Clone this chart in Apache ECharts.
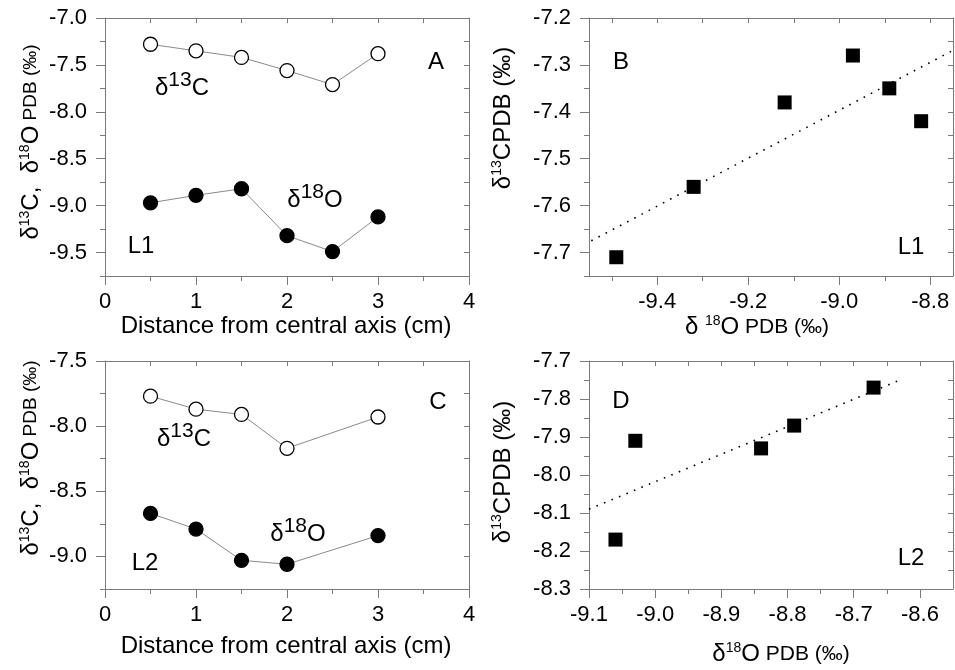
<!DOCTYPE html>
<html>
<head>
<meta charset="utf-8">
<script src="https://cdn.jsdelivr.net/npm/echarts@6/dist/echarts.min.js"></script>
<style>
html,body{margin:0;padding:0;background:#fff;}
#chart{width:955px;height:670px;}
</style>
</head>
<body>
<div id="chart"></div>
<script>
// ---------- data ----------
const distL1 = [0.5, 1, 1.5, 2, 2.5, 3];
const d13C_L1 = [-7.28, -7.35, -7.42, -7.56, -7.71, -7.38];
const d18O_L1 = [-8.97, -8.89, -8.82, -9.32, -9.49, -9.12];

const distL2 = [0.5, 1, 1.5, 2, 3];
const d13C_L2 = [-7.77, -7.87, -7.91, -8.17, -7.93];
const d18O_L2 = [-8.67, -8.79, -9.03, -9.06, -8.84];

// dotted trend lines (end points)
const fitB_x = [-9.545, -8.75];
const fitB_y = [-7.675, -7.269];
const fitD_x = [-9.1, -8.63];
const fitD_y = [-8.09, -7.75];

// ---------- ticks ----------
const xTicksA = [0, 1, 2, 3, 4];
const xMinorA = [0.5, 1.5, 2.5, 3.5];
const yTicksA = [-9.5, -9.0, -8.5, -8.0, -7.5, -7.0];
const yMinorA = [-9.75, -9.25, -8.75, -8.25, -7.75, -7.25];
const yTicksC = [-9.0, -8.5, -8.0, -7.5];
const yMinorC = [-9.25, -8.75, -8.25, -7.75];
const xTicksB = [-9.4, -9.2, -9.0, -8.8];
const xMinorB = [-9.5, -9.3, -9.1, -8.9];
const yTicksB = [-7.7, -7.6, -7.5, -7.4, -7.3, -7.2];
const yMinorB = [-7.75, -7.65, -7.55, -7.45, -7.35, -7.25];
const xTicksD = [-9.1, -9.0, -8.9, -8.8, -8.7, -8.6];
const xMinorD = [-9.05, -8.95, -8.85, -8.75, -8.65];
const yTicksD = [-8.3, -8.2, -8.1, -8.0, -7.9, -7.8, -7.7];
const yMinorD = [-8.25, -8.15, -8.05, -7.95, -7.85, -7.75];

const FONT = '"Liberation Sans", Arial, Helvetica, sans-serif';
const FRAME = '#7a7a7a';
const LBL = 22;

function fmt1(v) { return Number(v).toFixed(1); }
function fmt0(v) { return String(Math.round(v)); }

function axesFor(dim, g, min, max, major, minor, formatter) {
  const isX = dim === 'x';
  const main = {
    type: 'value', gridIndex: g, min: min, max: max,
    position: isX ? 'bottom' : 'left',
    axisLine: { show: true, onZero: false, lineStyle: { color: FRAME, width: 1 } },
    axisTick: { show: true, inside: false, length: 9, customValues: major, lineStyle: { color: FRAME, width: 1 } },
    axisLabel: { show: true, customValues: major, formatter: formatter, margin: isX ? 15 : 18,
      fontSize: LBL, fontFamily: FONT, color: '#000' },
    splitLine: { show: false }
  };
  const sub = {
    type: 'value', gridIndex: g, min: min, max: max,
    position: isX ? 'bottom' : 'left',
    axisLine: { show: false, onZero: false },
    axisTick: { show: true, inside: false, length: 5, customValues: minor, lineStyle: { color: FRAME, width: 1 } },
    axisLabel: { show: false },
    splitLine: { show: false }
  };
  const opp = {
    type: 'value', gridIndex: g, min: min, max: max,
    position: isX ? 'top' : 'right',
    axisLine: { show: true, onZero: false, lineStyle: { color: FRAME, width: 1 } },
    axisTick: { show: true, inside: true, length: 5, customValues: major.concat(minor), lineStyle: { color: FRAME, width: 1 } },
    axisLabel: { show: false },
    splitLine: { show: false }
  };
  return [main, sub, opp];
}

const xAxes = [].concat(
  axesFor('x', 0, 0, 4, xTicksA, xMinorA, fmt0),
  axesFor('x', 1, -9.55, -8.75, xTicksB, xMinorB, fmt1),
  axesFor('x', 2, 0, 4, xTicksA, xMinorA, fmt0),
  axesFor('x', 3, -9.1, -8.55, xTicksD, xMinorD, fmt1)
);
const yAxes = [].concat(
  axesFor('y', 0, -9.75, -7.0, yTicksA, yMinorA, fmt1),
  axesFor('y', 1, -7.75, -7.2, yTicksB, yMinorB, fmt1),
  axesFor('y', 2, -9.25, -7.5, yTicksC, yMinorC, fmt1),
  axesFor('y', 3, -8.3, -7.7, yTicksD, yMinorD, fmt1)
);

function pairs(xs, ys) { return xs.map((x, i) => [x, ys[i]]); }

function profile(g, xs, ys, filled) {
  return {
    type: 'line', xAxisIndex: 3 * g, yAxisIndex: 3 * g,
    data: pairs(xs, ys), symbol: 'circle', symbolSize: 14, showAllSymbol: true,
    lineStyle: { color: '#8a8a8a', width: 1 },
    itemStyle: { color: filled ? '#000' : '#fff', borderColor: '#000', borderWidth: 1.3, opacity: 1 },
    z: 3, silent: true
  };
}
function squares(g, xs, ys) {
  return {
    type: 'scatter', xAxisIndex: 3 * g, yAxisIndex: 3 * g,
    data: pairs(xs, ys), symbol: 'rect', symbolSize: 14,
    itemStyle: { color: '#000', opacity: 1 }, z: 4, silent: true
  };
}
function fit(g, xs, ys) {
  return {
    type: 'line', xAxisIndex: 3 * g, yAxisIndex: 3 * g,
    data: pairs(xs, ys), symbol: 'none',
    lineStyle: { color: '#000', width: 1.6, type: [1.6, 6.5] }, z: 2, silent: true
  };
}

const series = [
  profile(0, distL1, d13C_L1, false),
  profile(0, distL1, d18O_L1, true),
  fit(1, fitB_x, fitB_y),
  squares(1, d18O_L1, d13C_L1),
  profile(2, distL2, d13C_L2, false),
  profile(2, distL2, d18O_L2, true),
  fit(3, fitD_x, fitD_y),
  squares(3, d18O_L2, d13C_L2)
];

// ---------- text ----------
function txt(x, y, text, size, rich, rot) {
  return {
    type: 'text', x: x, y: y, rotation: rot || 0, z: 10, silent: true,
    style: {
      text: text, fontSize: size, fontFamily: FONT, fill: '#000',
      align: 'center', verticalAlign: 'middle', textAlign: 'center', textVerticalAlign: 'middle',
      rich: rich || {}
    }
  };
}
const richSym = {
  d: { fontSize: 24, fontFamily: FONT, fill: '#000' },
  s: { fontSize: 21, fontFamily: FONT, fill: '#000', padding: [0, 0, 16, 0] },
  b: { fontSize: 24, fontFamily: FONT, fill: '#000' }
};
const richTitle = {
  d: { fontSize: 24, fontFamily: FONT, fill: '#000' },
  s: { fontSize: 14, fontFamily: FONT, fill: '#000', padding: [0, 0, 12, 0] },
  b: { fontSize: 24, fontFamily: FONT, fill: '#000' },
  p: { fontSize: 19, fontFamily: FONT, fill: '#000' }
};
const richXTitle = {
  d: { fontSize: 24, fontFamily: FONT, fill: '#000' },
  s: { fontSize: 14, fontFamily: FONT, fill: '#000', padding: [0, 0, 12, 0] },
  b: { fontSize: 24, fontFamily: FONT, fill: '#000' },
  p: { fontSize: 21, fontFamily: FONT, fill: '#000' }
};
const R90 = Math.PI / 2;
const yTitleLeft = '{d|δ}{s|13}{b|C,  δ}{s|18}{b|O}{p| PDB (‰)}';
const yTitleRight = '{d|δ}{s|13}{b|CPDB (‰)}';
const xTitleB = '{d|δ }{s|18}{b|O}{p| PDB (‰)}';
const xTitleD = '{d|δ}{s|18}{b|O}{p| PDB (‰)}';

const graphics = [
  // panel A
  txt(436, 62, 'A', 24),
  txt(182, 88, '{d|δ}{s|13}{b|C}', 24, richSym),
  txt(315, 200, '{d|δ}{s|18}{b|O}', 24, richSym),
  txt(141, 246, 'L1', 24),
  txt(286, 326, 'Distance from central axis (cm)', 24),
  txt(31, 142, yTitleLeft, 24, richTitle, R90),
  // panel B
  txt(621, 62, 'B', 24),
  txt(911, 247, 'L1', 24),
  txt(757, 327, xTitleB, 24, richXTitle),
  txt(503, 118, yTitleRight, 25, richTitle, R90),
  // panel C
  txt(438, 402, 'C', 24),
  txt(184, 439, '{d|δ}{s|13}{b|C}', 24, richSym),
  txt(298, 534, '{d|δ}{s|18}{b|O}', 24, richSym),
  txt(145, 563, 'L2', 24),
  txt(286, 646, 'Distance from central axis (cm)', 24),
  txt(31, 458, yTitleLeft, 24, richTitle, R90),
  // panel D
  txt(621, 401, 'D', 24),
  txt(911, 558, 'L2', 24),
  txt(781, 654, xTitleD, 24, richXTitle),
  txt(503, 472, yTitleRight, 24, richTitle, R90)
];

const option = {
  animation: false,
  backgroundColor: '#fff',
  textStyle: { fontFamily: FONT },
  grid: [
    { left: 105, top: 18, width: 364, height: 258 },
    { left: 589, top: 18, width: 364, height: 258 },
    { left: 105, top: 361, width: 364, height: 228 },
    { left: 589, top: 361, width: 364, height: 228 }
  ],
  xAxis: xAxes,
  yAxis: yAxes,
  series: series,
  graphic: { elements: graphics }
};

const chart = echarts.init(document.getElementById('chart'), null, { renderer: 'canvas' });
chart.setOption(option);
</script>
</body>
</html>
